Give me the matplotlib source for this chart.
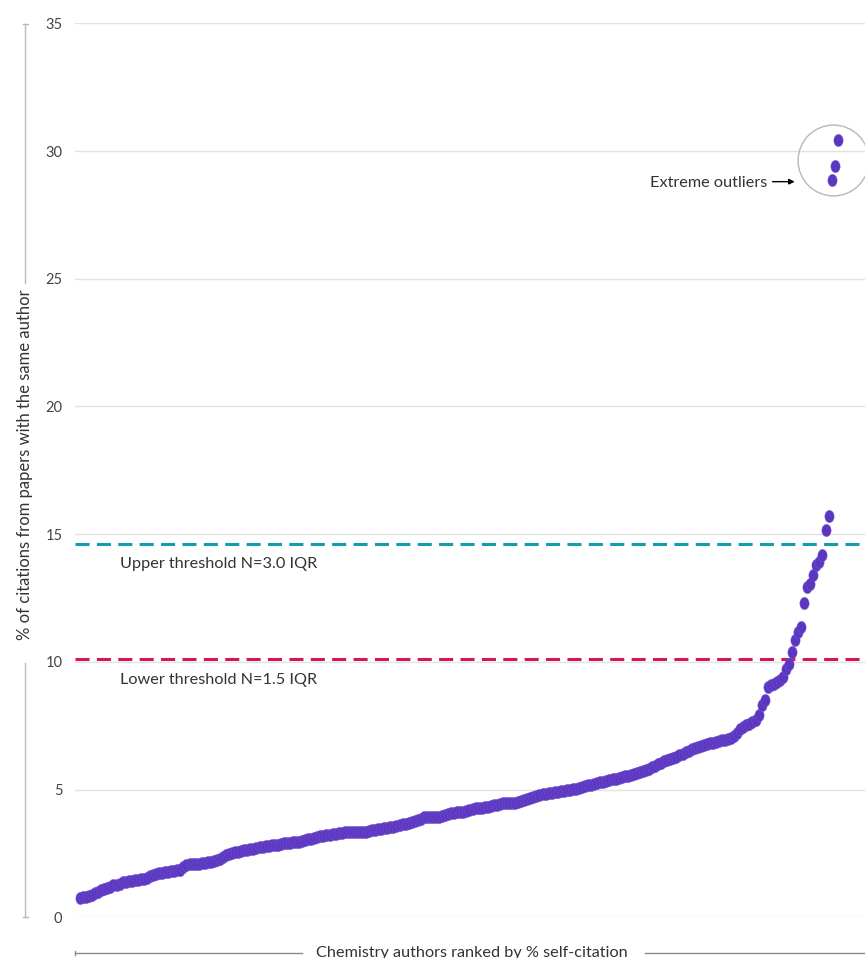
import matplotlib
matplotlib.use("Agg")
import matplotlib.pyplot as plt
from matplotlib.path import Path
from matplotlib.lines import Line2D
import numpy as np

plt.rcParams['font.family'] = ['Lato', 'DejaVu Sans']

# % self-citation per chemistry author, ranked
self_citation = [
    0.77, 0.78, 0.80, 0.85, 0.88, 0.95, 1.00, 1.05, 1.10, 1.15,
    1.20, 1.25, 1.28, 1.32, 1.37, 1.40, 1.42, 1.44, 1.45, 1.47,
    1.49, 1.50, 1.52, 1.60, 1.66, 1.70, 1.72, 1.75, 1.77, 1.79,
    1.80, 1.82, 1.84, 1.86, 1.95, 2.03, 2.08, 2.10, 2.10, 2.10,
    2.11, 2.13, 2.15, 2.18, 2.21, 2.24, 2.30, 2.37, 2.42, 2.47,
    2.52, 2.55, 2.57, 2.59, 2.62, 2.64, 2.66, 2.68, 2.71, 2.74,
    2.76, 2.78, 2.80, 2.82, 2.83, 2.85, 2.87, 2.90, 2.91, 2.92,
    2.93, 2.95, 2.96, 2.98, 3.01, 3.05, 3.08, 3.11, 3.14, 3.17,
    3.20, 3.22, 3.24, 3.26, 3.28, 3.29, 3.30, 3.32, 3.33, 3.34,
    3.35, 3.35, 3.35, 3.35, 3.35, 3.37, 3.40, 3.42, 3.44, 3.46,
    3.48, 3.51, 3.53, 3.55, 3.58, 3.61, 3.64, 3.67, 3.70, 3.73,
    3.77, 3.81, 3.86, 3.91, 3.94, 3.94, 3.94, 3.94, 3.94, 3.97,
    4.01, 4.05, 4.08, 4.10, 4.11, 4.13, 4.14, 4.17, 4.20, 4.23,
    4.26, 4.28, 4.29, 4.31, 4.33, 4.35, 4.38, 4.41, 4.44, 4.46,
    4.46, 4.46, 4.46, 4.47, 4.51, 4.55, 4.59, 4.63, 4.67, 4.71,
    4.74, 4.78, 4.81, 4.83, 4.85, 4.87, 4.90, 4.91, 4.93, 4.95,
    4.97, 4.98, 5.01, 5.04, 5.07, 5.10, 5.13, 5.16, 5.19, 5.22,
    5.25, 5.28, 5.31, 5.34, 5.37, 5.40, 5.43, 5.46, 5.49, 5.52,
    5.55, 5.58, 5.61, 5.63, 5.68, 5.72, 5.77, 5.82, 5.88, 5.94,
    6.00, 6.05, 6.11, 6.15, 6.20, 6.24, 6.29, 6.35, 6.41, 6.47,
    6.53, 6.57, 6.62, 6.66, 6.71, 6.75, 6.78, 6.81, 6.84, 6.87,
    6.90, 6.93, 6.96, 6.99, 7.02, 7.10, 7.20, 7.39, 7.45, 7.52,
    7.58, 7.65, 7.71, 7.91, 8.31, 8.50, 9.02, 9.08, 9.15, 9.21,
    9.30, 9.41, 9.74, 9.93, 10.39, 10.85, 11.17, 11.37, 12.31, 12.93,
    13.06, 13.39, 13.78, 13.91, 14.17, 15.18, 15.72, 28.86, 29.40, 30.42,
]
ranks = list(range(1, len(self_citation) + 1))

upper_threshold = 14.63   # N = 3.0 IQR
lower_threshold = 10.12   # N = 1.5 IQR
y_ticks = [0, 5, 10, 15, 20, 25, 30, 35]

PURPLE = '#5b36c1'
TEAL = '#159cab'
PINK = '#d4145f'
GRID = '#e3e3e3'
AXLINE = '#b8b8b8'
TEXT = '#333333'
FS = 11.7

W, H = 865, 958
fig = plt.figure(figsize=(W / 100, H / 100), dpi=100)

def fx(px):
    return px / W

def fy(py):
    return 1 - py / H

ax = fig.add_axes([fx(75), fy(917.3), fx(865) - fx(75), fy(23.3) - fy(917.3)])

# tall ellipse marker
t = np.linspace(0, 2 * np.pi, 40)
ellipse = Path(np.column_stack([0.38 * np.cos(t), 0.5 * np.sin(t)]), closed=True)

ax.plot(ranks, self_citation, linestyle='none', marker=ellipse, markersize=8.8,
        color=PURPLE, markeredgewidth=0.3, markeredgecolor='#7a5ad0',
        clip_on=False, zorder=3)

ax.axhline(upper_threshold, color=TEAL, lw=2.2, dashes=(4.6, 2.4), zorder=2)
ax.axhline(lower_threshold, color=PINK, lw=2.2, dashes=(4.6, 2.4), zorder=2)

ax.set_ylim(0, 35)
ax.set_xlim(-0.64, 258.97)
ax.set_yticks(y_ticks)
ax.set_yticklabels([str(v) for v in y_ticks])
ax.set_xticks([])
ax.grid(axis='y', color=GRID, lw=1)
ax.set_axisbelow(True)
for s in ax.spines.values():
    s.set_visible(False)
ax.tick_params(axis='y', length=0, pad=9, labelsize=10.5, labelcolor='#444444')

ytr = ax.get_yaxis_transform()
ax.text(0.057, 13.85, 'Upper threshold N=3.0 IQR', transform=ytr, fontsize=FS,
        color=TEXT, va='center', ha='left')
ax.text(0.057, 9.3, 'Lower threshold N=1.5 IQR', transform=ytr, fontsize=FS,
        color=TEXT, va='center', ha='left')

# extreme outliers callout
ax.text(0.876, 28.75, 'Extreme outliers', transform=ytr, fontsize=FS,
        color=TEXT, va='center', ha='right')
ax.annotate('', xy=(0.911, 28.8), xytext=(0.883, 28.8), xycoords=ytr,
            textcoords=ytr,
            arrowprops=dict(arrowstyle='-|>', color='black', lw=1,
                            mutation_scale=8, shrinkA=0, shrinkB=0))
ax.plot([0.9595], [29.65], transform=ytr, marker='o', markersize=51,
        mfc='none', mec=AXLINE, mew=1, clip_on=False, zorder=1)

# y-axis label with bracket line
fig.text(fx(25), fy(465), '% of citations from papers with the same author',
         rotation=90, ha='center', va='center', fontsize=12, color=TEXT)
for y0, y1 in [(24, 283), (663, 917)]:
    fig.add_artist(Line2D([fx(25), fx(25)], [fy(y0), fy(y1)], color=AXLINE, lw=1))
fig.add_artist(Line2D([fx(22.5), fx(27.5)], [fy(24), fy(24)], color=AXLINE, lw=1))
fig.add_artist(Line2D([fx(22.5), fx(27.5)], [fy(917), fy(917)], color=AXLINE, lw=1))

# x-axis label with bracket line
fig.text(fx(472), fy(956.5), 'Chemistry authors ranked by % self-citation',
         ha='center', va='baseline', fontsize=FS, color=TEXT)
fig.add_artist(Line2D([fx(74.5), fx(301.7)], [fy(952.7), fy(952.7)], color='#8a8a8a', lw=1))
fig.add_artist(Line2D([fx(645), fx(865)], [fy(952.7), fy(952.7)], color='#8a8a8a', lw=1))
fig.add_artist(Line2D([fx(74.5), fx(74.5)], [fy(950.5), fy(955)], color='#8a8a8a', lw=1))

fig.savefig('out.png', dpi=100)
